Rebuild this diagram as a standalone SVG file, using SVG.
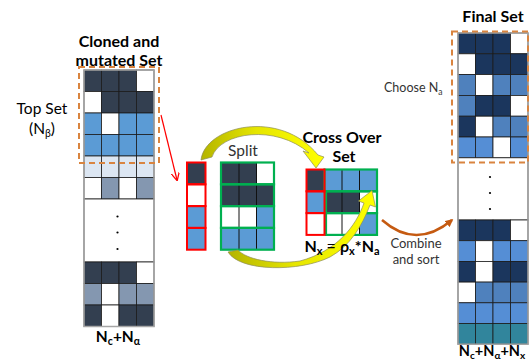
<svg xmlns="http://www.w3.org/2000/svg" width="531" height="360" viewBox="0 0 531 360">
  <style>
    .t { font-family: Lato, "Open Sans", "Liberation Sans", sans-serif; fill: #000; }
    .b { font-weight: bold; }
    .sm { fill: #333; }
    .c { stroke: #1c1c1c; stroke-width: 0.8; }
    .dk { fill: #333f50; }
    .bl { fill: #5b9bd5; }
    .lt { fill: #dce6f2; }
    .gb { fill: #8497b0; }
    .wh { fill: #ffffff; }
    .nv { fill: #1b365d; }
    .mb { fill: #4f81bd; }
    .lb { fill: #558ed5; }
    .tl { fill: #31859c; }
    .frame { fill: none; stroke: #a6a6a6; stroke-width: 1.5; }
    .dash { fill: none; stroke: #d9843f; stroke-width: 2; stroke-dasharray: 6 4; }
    .red { fill: none; stroke: #ff0000; stroke-width: 2; }
    .grn { fill: none; stroke: #00b050; stroke-width: 2.2; }
    .vl { stroke: #111; stroke-width: 1; }
    .dot { fill: #000; }
    .yarc { fill: url(#yg); stroke: #8c8c5a; stroke-width: 0.7; }
  </style>
  <defs>
    <linearGradient id="yg" x1="0" y1="0" x2="1" y2="0">
      <stop offset="0" stop-color="#b4b400"/>
      <stop offset="0.45" stop-color="#e6e600"/>
      <stop offset="1" stop-color="#ffff00"/>
    </linearGradient>
    <marker id="redHead" viewBox="0 0 10 10" refX="9" refY="5" markerWidth="7" markerHeight="7" orient="auto">
      <path d="M0,0 L10,5 L0,10" fill="none" stroke="#ff0000" stroke-width="1.5"/>
    </marker>
    <marker id="orHead" viewBox="0 0 10 10" refX="8" refY="5" markerWidth="3.2" markerHeight="3.2" orient="auto">
      <path d="M0,0 L10,5 L0,10 Z" fill="#c55a11"/>
    </marker>
  </defs>

  <!-- cloned and mutated population -->
  <g id="cloned-set">
    <text class="t b" x="119" y="47" font-size="16" text-anchor="middle">Cloned and</text>
    <text class="t b" x="119" y="66" font-size="16" text-anchor="middle">mutated Set</text>
    <g class="c">
      <rect class="dk" x="84" y="70" width="17.5" height="21.5"/>
      <rect class="dk" x="101.5" y="70" width="17.5" height="21.5"/>
      <rect class="dk" x="119" y="70" width="17.5" height="21.5"/>
      <rect class="wh" x="136.5" y="70" width="17.5" height="21.5"/>
      <rect class="wh" x="84" y="91.5" width="17.5" height="21.5"/>
      <rect class="dk" x="101.5" y="91.5" width="17.5" height="21.5"/>
      <rect class="dk" x="119" y="91.5" width="17.5" height="21.5"/>
      <rect class="dk" x="136.5" y="91.5" width="17.5" height="21.5"/>
      <rect class="bl" x="84" y="113" width="17.5" height="21.5"/>
      <rect class="wh" x="101.5" y="113" width="17.5" height="21.5"/>
      <rect class="bl" x="119" y="113" width="17.5" height="21.5"/>
      <rect class="bl" x="136.5" y="113" width="17.5" height="21.5"/>
      <rect class="bl" x="84" y="134.5" width="17.5" height="21.5"/>
      <rect class="bl" x="101.5" y="134.5" width="17.5" height="21.5"/>
      <rect class="bl" x="119" y="134.5" width="17.5" height="21.5"/>
      <rect class="bl" x="136.5" y="134.5" width="17.5" height="21.5"/>
      <rect class="lt" x="84" y="156" width="17.5" height="21.5"/>
      <rect class="lt" x="101.5" y="156" width="17.5" height="21.5"/>
      <rect class="lt" x="119" y="156" width="17.5" height="21.5"/>
      <rect class="lt" x="136.5" y="156" width="17.5" height="21.5"/>
      <rect class="wh" x="84" y="177.5" width="17.5" height="21.5"/>
      <rect class="gb" x="101.5" y="177.5" width="17.5" height="21.5"/>
      <rect class="wh" x="119" y="177.5" width="17.5" height="21.5"/>
      <rect class="gb" x="136.5" y="177.5" width="17.5" height="21.5"/>
      <rect class="wh" x="84" y="199" width="70" height="63"/>
      <rect class="dk" x="84" y="262" width="17.5" height="21.5"/>
      <rect class="dk" x="101.5" y="262" width="17.5" height="21.5"/>
      <rect class="dk" x="119" y="262" width="17.5" height="21.5"/>
      <rect class="wh" x="136.5" y="262" width="17.5" height="21.5"/>
      <rect class="gb" x="84" y="283.5" width="17.5" height="21.5"/>
      <rect class="wh" x="101.5" y="283.5" width="17.5" height="21.5"/>
      <rect class="gb" x="119" y="283.5" width="17.5" height="21.5"/>
      <rect class="gb" x="136.5" y="283.5" width="17.5" height="21.5"/>
      <rect class="dk" x="84" y="305" width="17.5" height="21.5"/>
      <rect class="wh" x="101.5" y="305" width="17.5" height="21.5"/>
      <rect class="dk" x="119" y="305" width="17.5" height="21.5"/>
      <rect class="dk" x="136.5" y="305" width="17.5" height="21.5"/>
    </g>
    <rect class="frame" x="84" y="70" width="70" height="256.5"/>
    <circle class="dot" cx="117.5" cy="216.5" r="1.1"/>
    <circle class="dot" cx="117.5" cy="232.5" r="1.1"/>
    <circle class="dot" cx="117.5" cy="249" r="1.1"/>
    <rect class="dash" x="79" y="67" width="80" height="96"/>
    <text class="t" x="42" y="114" font-size="15.5" text-anchor="middle">Top Set</text>
    <text class="t" x="42" y="134" font-size="15.5" text-anchor="middle">(N<tspan font-size="10.5" dy="3">β</tspan><tspan dy="-3">)</tspan></text>
    <text class="t b" x="118" y="342" font-size="15.5" text-anchor="middle">N<tspan font-size="10.5" dy="3">c</tspan><tspan dy="-3">+N</tspan><tspan font-size="10.5" dy="3">α</tspan></text>
  </g>

  <!-- selected members and their split -->
  <g id="selected-column">
    <rect class="dk" x="187" y="162.5" width="18.5" height="21.8"/>
    <rect class="wh" x="187" y="184.3" width="18.5" height="21.8"/>
    <rect class="bl" x="187" y="206.1" width="18.5" height="21.8"/>
    <rect class="bl" x="187" y="227.9" width="18.5" height="21.8"/>
    <rect class="red" x="187" y="162.5" width="18.5" height="21.8"/>
    <rect class="red" x="187" y="184.3" width="18.5" height="21.8"/>
    <rect class="red" x="187" y="206.1" width="18.5" height="21.8"/>
    <rect class="red" x="187" y="227.9" width="18.5" height="21.8"/>
  </g>

  <g id="split-set">
    <text class="t sm" x="243" y="156" font-size="15.5" text-anchor="middle">Split</text>
    <rect class="dk" x="221" y="162.5" width="18" height="21.8"/>
    <rect class="dk" x="239" y="162.5" width="17.5" height="21.8"/>
    <rect class="wh" x="256.5" y="162.5" width="17.5" height="21.8"/>
    <rect class="dk" x="221" y="184.3" width="18" height="21.8"/>
    <rect class="dk" x="239" y="184.3" width="17.5" height="21.8"/>
    <rect class="dk" x="256.5" y="184.3" width="17.5" height="21.8"/>
    <rect class="wh" x="221" y="206.1" width="18" height="21.8"/>
    <rect class="wh" x="239" y="206.1" width="17.5" height="21.8"/>
    <rect class="bl" x="256.5" y="206.1" width="17.5" height="21.8"/>
    <rect class="bl" x="221" y="227.9" width="18" height="21.8"/>
    <rect class="bl" x="239" y="227.9" width="17.5" height="21.8"/>
    <rect class="bl" x="256.5" y="227.9" width="17.5" height="21.8"/>
    <line class="vl" x1="239" y1="162.5" x2="239" y2="249.7"/>
    <line class="vl" x1="256.5" y1="162.5" x2="256.5" y2="249.7"/>
    <rect class="grn" x="221" y="162.5" width="53" height="21.8"/>
    <rect class="grn" x="221" y="184.3" width="53" height="21.8"/>
    <rect class="grn" x="221" y="206.1" width="53" height="21.8"/>
    <rect class="grn" x="221" y="227.9" width="53" height="21.8"/>
  </g>

  <!-- cross over set -->
  <g id="crossover-set">
    <text class="t b" x="342" y="143" font-size="16" text-anchor="middle">Cross Over</text>
    <text class="t b" x="344" y="162" font-size="16" text-anchor="middle">Set</text>
    <rect class="dk" x="306.5" y="169.5" width="18" height="21.8"/>
    <rect class="bl" x="306.5" y="191.3" width="18" height="21.8"/>
    <rect class="wh" x="306.5" y="213.1" width="18" height="21.8"/>
    <rect class="bl" x="324.5" y="169.5" width="17.5" height="21.8"/>
    <rect class="bl" x="342" y="169.5" width="17.5" height="21.8"/>
    <rect class="bl" x="359.5" y="169.5" width="17.5" height="21.8"/>
    <rect class="dk" x="326" y="191.3" width="16" height="21.8"/>
    <rect class="dk" x="342" y="191.3" width="17.5" height="21.8"/>
    <rect class="wh" x="359.5" y="191.3" width="17.5" height="21.8"/>
    <rect class="wh" x="326" y="213.1" width="16" height="21.8"/>
    <rect class="wh" x="342" y="213.1" width="17.5" height="21.8"/>
    <rect class="bl" x="359.5" y="213.1" width="17.5" height="21.8"/>
    <line class="vl" x1="342" y1="169.5" x2="342" y2="234.9"/>
    <line class="vl" x1="359.5" y1="169.5" x2="359.5" y2="234.9"/>
    <rect class="grn" x="324.5" y="169.5" width="52.5" height="21.8"/>
    <rect class="grn" x="326" y="191.3" width="51" height="21.8"/>
    <rect class="grn" x="326" y="213.1" width="51" height="21.8"/>
    <rect class="red" x="306.5" y="169.5" width="18" height="21.8"/>
    <rect class="red" x="306.5" y="191.3" width="18" height="21.8"/>
    <rect class="red" x="306.5" y="213.1" width="18" height="21.8"/>
  </g>

  <!-- final population -->
  <g id="final-set">
    <text class="t b" x="493" y="22" font-size="16" text-anchor="middle">Final Set</text>
    <g class="c">
      <rect class="nv" x="458" y="33" width="17.5" height="20.8"/>
      <rect class="nv" x="475.5" y="33" width="17.5" height="20.8"/>
      <rect class="nv" x="493" y="33" width="17.5" height="20.8"/>
      <rect class="wh" x="510.5" y="33" width="17.5" height="20.8"/>
      <rect class="wh" x="458" y="53.8" width="17.5" height="20.8"/>
      <rect class="nv" x="475.5" y="53.8" width="17.5" height="20.8"/>
      <rect class="nv" x="493" y="53.8" width="17.5" height="20.8"/>
      <rect class="nv" x="510.5" y="53.8" width="17.5" height="20.8"/>
      <rect class="mb" x="458" y="74.6" width="17.5" height="20.8"/>
      <rect class="wh" x="475.5" y="74.6" width="17.5" height="20.8"/>
      <rect class="mb" x="493" y="74.6" width="17.5" height="20.8"/>
      <rect class="mb" x="510.5" y="74.6" width="17.5" height="20.8"/>
      <rect class="mb" x="458" y="95.4" width="17.5" height="20.8"/>
      <rect class="nv" x="475.5" y="95.4" width="17.5" height="20.8"/>
      <rect class="nv" x="493" y="95.4" width="17.5" height="20.8"/>
      <rect class="wh" x="510.5" y="95.4" width="17.5" height="20.8"/>
      <rect class="nv" x="458" y="116.2" width="17.5" height="20.8"/>
      <rect class="wh" x="475.5" y="116.2" width="17.5" height="20.8"/>
      <rect class="mb" x="493" y="116.2" width="17.5" height="20.8"/>
      <rect class="mb" x="510.5" y="116.2" width="17.5" height="20.8"/>
      <rect class="lb" x="458" y="137" width="17.5" height="20.8"/>
      <rect class="lb" x="475.5" y="137" width="17.5" height="20.8"/>
      <rect class="wh" x="493" y="137" width="17.5" height="20.8"/>
      <rect class="lb" x="510.5" y="137" width="17.5" height="20.8"/>
      <rect class="wh" x="458" y="157.8" width="70" height="62.2"/>
      <rect class="nv" x="458" y="220" width="17.5" height="20.7"/>
      <rect class="nv" x="475.5" y="220" width="17.5" height="20.7"/>
      <rect class="nv" x="493" y="220" width="17.5" height="20.7"/>
      <rect class="wh" x="510.5" y="220" width="17.5" height="20.7"/>
      <rect class="lb" x="458" y="240.7" width="17.5" height="20.7"/>
      <rect class="wh" x="475.5" y="240.7" width="17.5" height="20.7"/>
      <rect class="lb" x="493" y="240.7" width="17.5" height="20.7"/>
      <rect class="lb" x="510.5" y="240.7" width="17.5" height="20.7"/>
      <rect class="nv" x="458" y="261.4" width="17.5" height="20.7"/>
      <rect class="wh" x="475.5" y="261.4" width="17.5" height="20.7"/>
      <rect class="nv" x="493" y="261.4" width="17.5" height="20.7"/>
      <rect class="nv" x="510.5" y="261.4" width="17.5" height="20.7"/>
      <rect class="wh" x="458" y="282.1" width="17.5" height="20.7"/>
      <rect class="mb" x="475.5" y="282.1" width="17.5" height="20.7"/>
      <rect class="mb" x="493" y="282.1" width="17.5" height="20.7"/>
      <rect class="mb" x="510.5" y="282.1" width="17.5" height="20.7"/>
      <rect class="lb" x="458" y="302.8" width="17.5" height="20.7"/>
      <rect class="lb" x="475.5" y="302.8" width="17.5" height="20.7"/>
      <rect class="lb" x="493" y="302.8" width="17.5" height="20.7"/>
      <rect class="lb" x="510.5" y="302.8" width="17.5" height="20.7"/>
      <rect class="tl" x="458" y="323.5" width="17.5" height="20.7"/>
      <rect class="tl" x="475.5" y="323.5" width="17.5" height="20.7"/>
      <rect class="tl" x="493" y="323.5" width="17.5" height="20.7"/>
      <rect class="tl" x="510.5" y="323.5" width="17.5" height="20.7"/>
    </g>
    <rect class="frame" x="458" y="33" width="70" height="311.2"/>
    <circle class="dot" cx="490" cy="177" r="1.1"/>
    <circle class="dot" cx="490" cy="193" r="1.1"/>
    <circle class="dot" cx="490" cy="209" r="1.1"/>
    <rect class="dash" x="452" y="31.5" width="76" height="131"/>
    <text class="t sm" x="384" y="92" font-size="12.5">Choose N<tspan font-size="8.5" dy="2.5">a</tspan></text>
    <text class="t b" x="492" y="356" font-size="14.5" text-anchor="middle">N<tspan font-size="10" dy="2.5">c</tspan><tspan dy="-2.5">+N</tspan><tspan font-size="10" dy="2.5">α</tspan><tspan dy="-2.5">+N</tspan><tspan font-size="10" dy="2.5">x</tspan></text>
  </g>

  <!-- connectors -->
  <g id="connectors">
    <line x1="161" y1="115" x2="177" y2="180" stroke="#ff0000" stroke-width="1.2" marker-end="url(#redHead)"/>
    <path class="yarc" d="M201,160 C205,126 280,108 318,155 L324,157 L316,168 L303,151 L309,153 C276,124 220,132 212,157 Z"/>
    <path class="yarc" d="M228,252 C240,272 300,272 330,257 C350,246 362,226 370,205 L375.5,207 L372,190.5 L358.5,201 L364,203 C356,226 337,251 300,261 C272,265 246,259 238,250 Z"/>
    <path d="M382,220 Q416,250 452,220" fill="none" stroke="#c55a11" stroke-width="2.5" marker-end="url(#orHead)"/>
    <text class="t sm" x="416" y="248" font-size="13" text-anchor="middle">Combine</text>
    <text class="t sm" x="416" y="264" font-size="13" text-anchor="middle">and sort</text>
  </g>

  <!-- crossover count, printed over the lower arc -->
  <g id="crossover-count">
    <text class="t b" x="342" y="252" font-size="16" text-anchor="middle">N<tspan font-size="11" dy="3">x</tspan><tspan dy="-3" font-weight="normal"> = </tspan>ρ<tspan font-size="11" dy="3">x</tspan><tspan dy="-3">*N</tspan><tspan font-size="11" dy="3">a</tspan></text>
  </g>
</svg>
